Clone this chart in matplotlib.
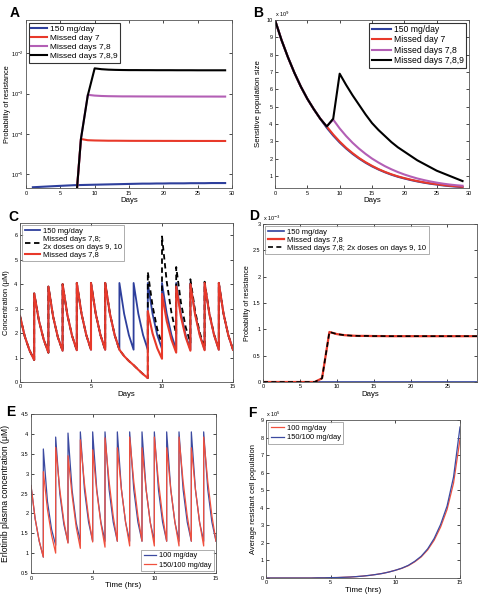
import numpy as np
import matplotlib
matplotlib.use('Agg')
import matplotlib.pyplot as plt

plt.rcParams['font.family'] = ['Liberation Sans', 'DejaVu Sans']

# ---------------- data ----------------
# A: probability of resistance (log)
days_A = np.arange(1, 30)
blue_A = [4.8, 4.9, 5.0, 5.1, 5.2, 5.3, 5.4, 5.45, 5.5, 5.55, 5.6, 5.65, 5.7, 5.75, 5.8,
          5.85, 5.9, 5.9, 5.95, 5.95, 6.0, 6.0, 6.0, 6.05, 6.05, 6.05, 6.1, 6.1, 6.1]
red_A = [4.8, 4.9, 5.0, 5.1, 5.2, 5.3, 5.4, 750, 700, 690, 685, 680, 680, 678, 676,
         675, 675, 674, 674, 673, 673, 672, 672, 672, 671, 671, 671, 670, 670]
purple_A = [4.8, 4.9, 5.0, 5.1, 5.2, 5.3, 5.4, 750, 9300, 8900, 8700, 8600, 8550, 8500, 8500,
            8480, 8470, 8460, 8450, 8450, 8440, 8440, 8430, 8430, 8420, 8420, 8420, 8410, 8410]
black_A = [4.8, 4.9, 5.0, 5.1, 5.2, 5.3, 5.4, 750, 9000, 42000, 40000, 39000, 38500, 38200, 38000,
           38000, 37900, 37900, 37800, 37800, 37800, 37700, 37700, 37700, 37600, 37600, 37600, 37600, 37600]
labels_A = ['150 mg/day', 'Missed day 7', 'Missed days 7,8', 'Missed days 7,8,9']

# B: sensitive population size (x 10^9)
days_B = np.arange(0, 30)
blue_B = [10, 8.85, 7.85, 6.95, 6.15, 5.45, 4.85, 4.3, 3.78, 3.33, 2.93, 2.58, 2.27, 2.0, 1.76,
          1.55, 1.37, 1.21, 1.07, 0.95, 0.85, 0.76, 0.68, 0.61, 0.55, 0.5, 0.45, 0.41, 0.38, 0.35]
red_B = [10, 8.85, 7.85, 6.95, 6.15, 5.45, 4.85, 4.3, 3.85, 3.39, 2.98, 2.62, 2.31, 2.03, 1.79,
         1.58, 1.39, 1.23, 1.09, 0.97, 0.87, 0.78, 0.7, 0.63, 0.57, 0.52, 0.47, 0.43, 0.4, 0.37]
purple_B = [10, 8.85, 7.85, 6.95, 6.15, 5.45, 4.85, 4.3, 3.85, 4.25, 3.74, 3.3, 2.91, 2.57, 2.27,
            2.0, 1.77, 1.56, 1.38, 1.22, 1.08, 0.96, 0.85, 0.76, 0.68, 0.61, 0.55, 0.5, 0.46, 0.43]
black_B = [10, 8.85, 7.85, 6.95, 6.15, 5.45, 4.85, 4.3, 3.85, 4.3, 6.9, 6.25, 5.65, 5.1, 4.55,
           4.05, 3.65, 3.3, 2.95, 2.65, 2.4, 2.15, 1.9, 1.7, 1.5, 1.3, 1.15, 1.0, 0.85, 0.7]

# C: concentration, one row per day [dose, +1/3, +2/3, next day]
days_C = np.arange(0, 15)
red_C = [[2.7, 1.87, 1.3, 0.9], [3.62, 2.51, 1.74, 1.2], [3.9, 2.67, 1.83, 1.28],
         [4.0, 2.75, 1.89, 1.3], [4.05, 2.79, 1.92, 1.32], [4.05, 2.79, 1.92, 1.32],
         [4.05, 2.79, 1.92, 1.32], [1.32, 1.06, 0.86, 0.69], [0.69, 0.5, 0.32, 0.16],
         [2.9, 1.99, 1.38, 0.95], [3.6, 2.49, 1.73, 1.2], [3.9, 2.67, 1.83, 1.28],
         [4.0, 2.75, 1.89, 1.3], [4.05, 2.79, 1.92, 1.32], [4.05, 2.79, 1.92, 1.32]]
blue_C = [[2.7, 1.87, 1.3, 0.9], [3.62, 2.51, 1.74, 1.2], [3.9, 2.67, 1.83, 1.28],
          [4.0, 2.75, 1.89, 1.3], [4.05, 2.79, 1.92, 1.32], [4.05, 2.79, 1.92, 1.32],
          [4.05, 2.79, 1.92, 1.32], [4.05, 2.79, 1.92, 1.32], [4.05, 2.79, 1.92, 1.32],
          [4.05, 2.79, 1.92, 1.35], [4.05, 2.79, 1.92, 1.32], [4.05, 2.79, 1.92, 1.32],
          [4.05, 2.79, 1.92, 1.32], [4.05, 2.79, 1.92, 1.32], [4.05, 2.79, 1.92, 1.32]]
black_C = [[2.7, 1.87, 1.3, 0.9], [3.62, 2.51, 1.74, 1.2], [3.9, 2.67, 1.83, 1.28],
           [4.0, 2.75, 1.89, 1.3], [4.05, 2.79, 1.92, 1.32], [4.05, 2.79, 1.92, 1.32],
           [4.05, 2.79, 1.92, 1.32], [1.32, 1.06, 0.86, 0.69], [0.69, 0.5, 0.32, 0.16],
           [4.5, 3.12, 2.16, 1.55], [5.95, 4.1, 2.83, 1.95], [4.7, 3.25, 2.25, 1.6],
           [4.2, 2.9, 2.0, 1.4], [4.1, 2.83, 1.95, 1.35], [4.05, 2.79, 1.92, 1.32]]

# D: probability of resistance (x 10^-3)
days_D = np.arange(0, 30)
blue_D = [0] * 30
red_D = [0, 0, 0, 0, 0, 0, 0, 0, 0.07, 0.95, 0.91, 0.89, 0.88, 0.875, 0.875,
         0.872, 0.872, 0.87, 0.87, 0.87, 0.87, 0.87, 0.87, 0.87, 0.87, 0.87, 0.87, 0.87, 0.87, 0.87]
black_D = red_D

# E: erlotinib plasma concentration
days_E = np.arange(0, 15)
blue_E = [[2.7, 1.87, 1.3, 0.9], [3.62, 2.3, 1.6, 1.2], [3.92, 2.5, 1.72, 1.27],
          [4.02, 2.58, 1.76, 1.3], [4.05, 2.6, 1.78, 1.3], [4.05, 2.6, 1.78, 1.3],
          [4.05, 2.6, 1.78, 1.3], [4.05, 2.6, 1.78, 1.3], [4.05, 2.6, 1.78, 1.3],
          [4.05, 2.6, 1.78, 1.3], [4.05, 2.6, 1.78, 1.3], [4.05, 2.6, 1.78, 1.3],
          [4.05, 2.6, 1.78, 1.3], [4.05, 2.6, 1.78, 1.3], [4.05, 2.6, 1.78, 1.3]]
red_E = [[2.7, 1.87, 1.3, 0.9], [3.05, 2.1, 1.45, 1.0], [3.66, 2.6, 1.8, 1.25],
         [3.45, 2.45, 1.65, 1.12], [3.85, 2.75, 1.9, 1.28], [3.6, 2.55, 1.75, 1.15],
         [3.9, 2.8, 1.93, 1.3], [3.65, 2.6, 1.78, 1.18], [3.92, 2.8, 1.94, 1.3],
         [3.65, 2.6, 1.78, 1.18], [3.92, 2.8, 1.94, 1.3], [3.65, 2.6, 1.78, 1.18],
         [3.92, 2.8, 1.94, 1.3], [3.65, 2.6, 1.78, 1.18], [3.92, 2.8, 1.94, 1.3]]

# F: average resistant cell population (x 10^5)
t_F = np.arange(0, 15.5, 0.5)
red_F = [0, 0, 0, 0, 0, 0, 0, 0, 0.01, 0.01, 0.02, 0.025, 0.04, 0.055, 0.08, 0.11,
         0.15, 0.2, 0.26, 0.34, 0.44, 0.55, 0.7, 0.92, 1.2, 1.6, 2.15, 2.9, 3.9, 5.4, 7.9]
blue_F = [0, 0, 0, 0, 0, 0, 0, 0, 0.01, 0.01, 0.02, 0.025, 0.04, 0.055, 0.08, 0.11,
          0.15, 0.2, 0.26, 0.34, 0.44, 0.56, 0.72, 0.95, 1.24, 1.66, 2.25, 3.05, 4.1, 5.75, 8.6]

BLUE = '#2e3f9c'
RED = '#e8392a'
PURPLE = '#b35fb5'
BLUE2 = '#3c4aa0'
RED2 = '#f0503e'


def saw(days, segs):
    t, y = [], []
    for d, s in zip(days, segs):
        t += [d, d + 1 / 3, d + 2 / 3, d + 1]
        y += list(s)
    return t, y


def style(ax):
    ax.tick_params(direction='in', length=2, width=0.5, labelsize=4.0, pad=1.8,
                   top=True, right=True)
    for s in ax.spines.values():
        s.set_linewidth(0.6)
        s.set_color('#555555')


def legend(ax, loc, fs, hl, ls=0.15, ec='black', lw=0.8):
    leg = ax.legend(loc=loc, fontsize=fs, frameon=True, fancybox=False, borderpad=0.3,
                    handlelength=hl, labelspacing=ls, borderaxespad=0.3, handletextpad=0.4)
    leg.get_frame().set_edgecolor(ec)
    leg.get_frame().set_linewidth(lw)


fig = plt.figure(figsize=(4.9, 5.99), dpi=100)
W, H = 490., 599.


def box(l, t, r, b):
    return fig.add_axes([l / W, 1 - b / H, (r - l) / W, (b - t) / H])


def ylab(ax, text, fs, xpix, l, r):
    ax.set_ylabel(text, fontsize=fs)
    ax.yaxis.set_label_coords((xpix + 3 - l) / (r - l), 0.5)


# ---- A ----
ax = box(26, 20, 232, 188)
ax.plot(days_A, np.array(blue_A) * 1e-6, color=BLUE, lw=1.5, label=labels_A[0])
ax.plot(days_A, np.array(red_A) * 1e-7, color=RED, lw=1.5, label=labels_A[1])
ax.plot(days_A, np.array(purple_A) * 1e-7, color=PURPLE, lw=1.5, label=labels_A[2])
ax.plot(days_A, np.array(black_A) * 1e-7, color='black', lw=1.5, label=labels_A[3])
ax.set_yscale('log')
ax.set_xlim(0, 30)
ax.set_ylim(4.6e-6, 6.6e-2)
ax.set_yticks([1e-5, 1e-4, 1e-3, 1e-2])
ax.yaxis.set_minor_locator(matplotlib.ticker.NullLocator())
ax.set_xlabel('Days', fontsize=5.6, labelpad=1)
ylab(ax, 'Probability of resistance', 5.3, 8, 26, 232)
style(ax)
legend(ax, 'upper left', 6, 1.9)
fig.text(10 / W, 1 - 13 / H, 'A', fontsize=10, fontweight='bold', va='center')

# ---- B ----
ax = box(275, 20, 469, 188)
ax.plot(days_B, blue_B, color=BLUE, lw=1.5, label=labels_A[0])
ax.plot(days_B, red_B, color=RED, lw=1.5, label=labels_A[1])
ax.plot(days_B, purple_B, color=PURPLE, lw=1.5, label=labels_A[2])
ax.plot(days_B, black_B, color='black', lw=1.5, label=labels_A[3])
ax.set_xlim(0, 30)
ax.set_ylim(0.3, 10)
ax.set_yticks(range(1, 11))
ax.set_xlabel('Days', fontsize=5.6, labelpad=1)
ylab(ax, 'Sensitive population size', 5.7, 259, 275, 469)
style(ax)
ax.text(0, 1.005, r'x 10$^{9}$', transform=ax.transAxes, fontsize=4, va='bottom')
legend(ax, 'upper right', 6.2, 2.2)
fig.text(253 / W, 1 - 13 / H, 'B', fontsize=10, fontweight='bold', va='center')

# ---- C ----
ax = box(20, 223, 233, 382)
t, y = saw(days_C, blue_C)
ax.plot(t, y, color=BLUE, lw=1.3, label='150 mg/day')
t, y = saw(days_C, black_C)
ax.plot(t, y, color='black', lw=1.3, ls=(0, (3, 2)), label='Missed days 7,8;\n2x doses on days 9, 10')
t, y = saw(days_C, red_C)
ax.plot(t, y, color=RED, lw=1.5, label='Missed days 7,8')
ax.set_xlim(0, 15)
ax.set_ylim(0, 6.5)
ax.set_xticks([0, 5, 10, 15])
ax.set_yticks(range(0, 7))
ax.set_xlabel('Days', fontsize=5.6, labelpad=1)
ylab(ax, 'Concentration (\u03bcM)', 5.4, 7, 20, 233)
style(ax)
legend(ax, 'upper left', 5.5, 2.0, ls=0.1, ec='#888888', lw=0.6)
fig.text(8 / W, 1 - 217 / H, 'C', fontsize=10, fontweight='bold', va='center')

# ---- D ----
ax = box(263, 224, 477, 382)
ax.plot(days_D, blue_D, color=BLUE, lw=1.2, label='150 mg/day')
ax.plot(days_D, red_D, color=RED, lw=1.6, label='Missed days 7,8')
ax.plot(days_D, black_D, color='black', lw=1.2, ls=(0, (3, 2)),
        label='Missed days 7,8; 2x doses on days 9, 10')
ax.set_xlim(0, 29)
ax.set_ylim(0, 3)
ax.set_xticks([0, 5, 10, 15, 20, 25])
ax.set_yticks([0, 0.5, 1, 1.5, 2, 2.5, 3])
ax.set_yticklabels(['0', '0.5', '1', '1.5', '2', '2.5', '3'])
ax.set_xlabel('Days', fontsize=5.6, labelpad=1)
ylab(ax, 'Probability of resistance', 5.1, 248, 263, 477)
style(ax)
ax.text(0, 1.005, r'x 10$^{-3}$', transform=ax.transAxes, fontsize=4, va='bottom')
legend(ax, 'upper left', 5.5, 2.2, ls=0.1, ec='#888888', lw=0.6)
fig.text(249 / W, 1 - 216 / H, 'D', fontsize=10, fontweight='bold', va='center')

# ---- E ----
ax = box(31, 414, 216, 573)
t, y = saw(days_E, blue_E)
ax.plot(t, y, color=BLUE2, lw=0.9, label='100 mg/day')
t, y = saw(days_E, red_E)
ax.plot(t, y, color=RED2, lw=0.9, label='150/100 mg/day')
ax.set_xlim(0, 15)
ax.set_ylim(0.5, 4.5)
ax.set_xticks([0, 5, 10, 15])
ax.set_yticks([0.5, 1, 1.5, 2, 2.5, 3, 3.5, 4, 4.5])
ax.set_yticklabels(['0.5', '1', '1.5', '2', '2.5', '3', '3.5', '4', '4.5'])
ax.set_xlabel('Time (hrs)', fontsize=5.8, labelpad=1)
ylab(ax, 'Erlotinib plasma concentration (\u03bcM)', 6.2, 7, 31, 216)
style(ax)
legend(ax, 'lower right', 5.3, 1.7, ls=0.3, ec='#888888', lw=0.6)
fig.text(6 / W, 1 - 412 / H, 'E', fontsize=10, fontweight='bold', va='center')

# ---- F ----
ax = box(266, 420, 460, 578)
ax.plot(t_F, red_F, color=RED2, lw=0.9, label='100 mg/day')
ax.plot(t_F, blue_F, color=BLUE2, lw=0.9, label='150/100 mg/day')
ax.set_xlim(0, 15)
ax.set_ylim(0, 9)
ax.set_xticks([0, 5, 10, 15])
ax.set_yticks(range(0, 10))
ax.set_xlabel('Time (hrs)', fontsize=5.8, labelpad=1)
ylab(ax, 'Average resistant cell population', 5.4, 254, 266, 460)
style(ax)
ax.text(0, 1.005, r'x 10$^{5}$', transform=ax.transAxes, fontsize=4, va='bottom')
legend(ax, 'upper left', 5.4, 1.8, ls=0.3, ec='#888888', lw=0.6)
fig.text(248 / W, 1 - 413 / H, 'F', fontsize=10, fontweight='bold', va='center')

fig.savefig('out.png', dpi=100, facecolor='white')
